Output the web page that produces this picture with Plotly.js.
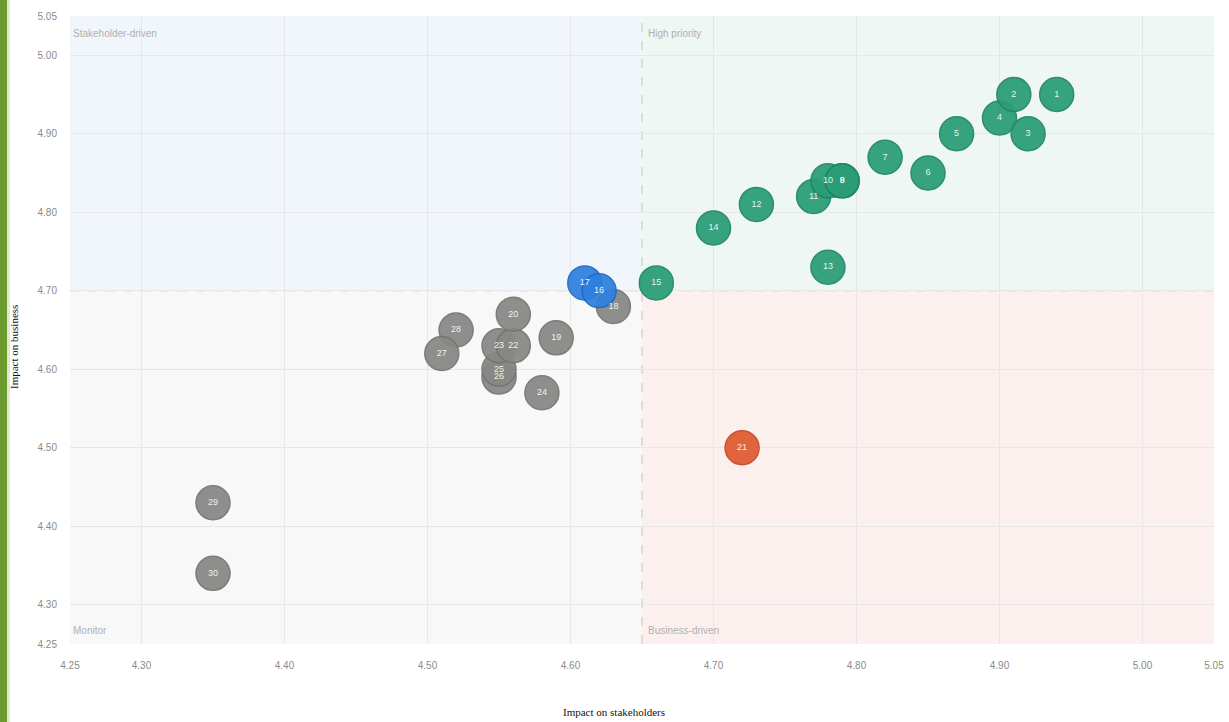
<!DOCTYPE html>
<html>
<head>
<meta charset="utf-8">
<script src="https://cdn.plot.ly/plotly-3.0.1.min.js"></script>
<style>html,body{margin:0;padding:0;background:#fff;}#chart{width:1229px;height:722px;}</style>
</head>
<body>
<div id="chart"></div>
<script>
// Data
const ids = [1,2,3,4,5,6,7,8,9,10,11,12,13,14,15,16,17,18,19,20,21,22,23,24,25,26,27,28,29,30];
const stakeholders = [4.94,4.91,4.92,4.90,4.87,4.85,4.82,4.79,4.79,4.78,4.77,4.73,4.78,4.70,4.66,4.62,4.61,4.63,4.59,4.56,4.72,4.56,4.55,4.58,4.55,4.55,4.51,4.52,4.35,4.35];
const business =     [4.95,4.95,4.90,4.92,4.90,4.85,4.87,4.84,4.84,4.84,4.82,4.81,4.73,4.78,4.71,4.70,4.71,4.68,4.64,4.67,4.50,4.63,4.63,4.57,4.60,4.59,4.62,4.65,4.43,4.34];
const groups = ['high','high','high','high','high','high','high','high','high','high','high','high','high','high','high',
  'stake','stake','monitor','monitor','monitor','business','monitor','monitor','monitor','monitor','monitor','monitor','monitor','monitor','monitor'];

const tickVals = [4.25,4.30,4.40,4.50,4.60,4.70,4.80,4.90,5.00,5.05];
const tickText = ['4.25','4.30','4.40','4.50','4.60','4.70','4.80','4.90','5.00','5.05'];
const axisMin = 4.25, axisMax = 5.05;
const xSplit = 4.65, ySplit = 4.70;
const quadrantNames = ['Stakeholder-driven','High priority','Monitor','Business-driven'];

const groupColor = {high:'#2a9c76', stake:'#2f7fde', monitor:'#878784', business:'#df5a2f'};
const groupLine = {high:'#1f8663', stake:'#2368c0', monitor:'#737370', business:'#c24a24'};

// draw higher numbers first so lower numbers sit on top
const order = ids.map((d,i)=>i).sort((a,b)=>ids[b]-ids[a]);

const trace = {
  type:'scatter', mode:'markers+text',
  x: order.map(i=>stakeholders[i]),
  y: order.map(i=>business[i]),
  text: order.map(i=>String(ids[i])),
  textposition:'middle center',
  textfont:{color:'rgba(255,255,255,0.9)', size:9, family:'Liberation Sans Narrow, Arial, sans-serif'},
  marker:{size:34, color: order.map(i=>groupColor[groups[i]]), opacity:0.93,
          line:{width:1.5, color: order.map(i=>groupLine[groups[i]])}},
  hoverinfo:'skip', showlegend:false, cliponaxis:false
};

const shapes = [
  {type:'rect', xref:'x', yref:'y', x0:axisMin, x1:xSplit, y0:ySplit, y1:axisMax, fillcolor:'#f1f6fd', line:{width:0}, layer:'below'},
  {type:'rect', xref:'x', yref:'y', x0:xSplit, x1:axisMax, y0:ySplit, y1:axisMax, fillcolor:'#eef7f3', line:{width:0}, layer:'below'},
  {type:'rect', xref:'x', yref:'y', x0:axisMin, x1:xSplit, y0:axisMin, y1:ySplit, fillcolor:'#f8f8f8', line:{width:0}, layer:'below'},
  {type:'rect', xref:'x', yref:'y', x0:xSplit, x1:axisMax, y0:axisMin, y1:ySplit, fillcolor:'#fcf0ef', line:{width:0}, layer:'below'},
  {type:'line', xref:'x', yref:'y', x0:xSplit, x1:xSplit, y0:axisMin, y1:axisMax, line:{color:'#c4c4c4', width:1, dash:'dash'}, layer:'below'},
  {type:'line', xref:'x', yref:'y', x0:axisMin, x1:axisMax, y0:ySplit, y1:ySplit, line:{color:'#c4c4c4', width:1, dash:'dash'}, layer:'below'},
  // green scan border on the left edge
  {type:'rect', xref:'paper', yref:'paper', x0:-70/1144, x1:-63/1144, y0:-78/628, y1:1+16/628, fillcolor:'#6b9a2e', line:{width:0}},
  {type:'rect', xref:'paper', yref:'paper', x0:-63/1144, x1:-60/1144, y0:-78/628, y1:1+16/628, fillcolor:'#dfe9cf', line:{width:0}}
];

const qFont = {size:10, color:'#b0b0b0', family:'Liberation Sans Narrow, Arial, sans-serif'};
const annotations = [
  {xref:'x', yref:'y', x:axisMin, y:axisMax, text:quadrantNames[0], showarrow:false, xanchor:'left', yanchor:'top', xshift:1, yshift:-10, font:qFont},
  {xref:'x', yref:'y', x:xSplit, y:axisMax, text:quadrantNames[1], showarrow:false, xanchor:'left', yanchor:'top', xshift:4, yshift:-10, font:qFont},
  {xref:'x', yref:'y', x:axisMin, y:axisMin, text:quadrantNames[2], showarrow:false, xanchor:'left', yanchor:'bottom', xshift:1, yshift:6, font:qFont},
  {xref:'x', yref:'y', x:xSplit, y:axisMin, text:quadrantNames[3], showarrow:false, xanchor:'left', yanchor:'bottom', xshift:4, yshift:6, font:qFont},
  {xref:'paper', yref:'paper', x:(614-70)/1144, y:(644-712)/628, text:'Impact on stakeholders', showarrow:false, xanchor:'center', yanchor:'middle',
   font:{size:11, color:'#111', family:'Liberation Serif, Times New Roman, serif'}},
  {xref:'paper', yref:'paper', x:(14-70)/1144, y:(644-347)/628, text:'Impact on business', showarrow:false, textangle:-90, xanchor:'center', yanchor:'middle',
   font:{size:11, color:'#111', family:'Liberation Serif, Times New Roman, serif'}}
];

const tickFont = {size:10, color:'#8a8a8a', family:'Liberation Sans Narrow, Arial, sans-serif'};
const layout = {
  width:1229, height:722,
  margin:{l:70, r:15, t:16, b:78},
  paper_bgcolor:'#ffffff', plot_bgcolor:'#ffffff',
  xaxis:{range:[axisMin, axisMax], tickvals:tickVals, ticktext:tickText, showgrid:true, gridcolor:'#e7e7e7', gridwidth:1,
         zeroline:false, showline:false, ticks:'', tickfont:tickFont, ticklabelstandoff:14},
  yaxis:{range:[axisMin, axisMax], tickvals:tickVals, ticktext:tickText, showgrid:true, gridcolor:'#e7e7e7', gridwidth:1,
         zeroline:false, showline:false, ticks:'', tickfont:tickFont, ticklabelstandoff:12},
  shapes:shapes, annotations:annotations, showlegend:false
};

Plotly.newPlot('chart', [trace], layout, {displayModeBar:false, staticPlot:true});
</script>
</body>
</html>
